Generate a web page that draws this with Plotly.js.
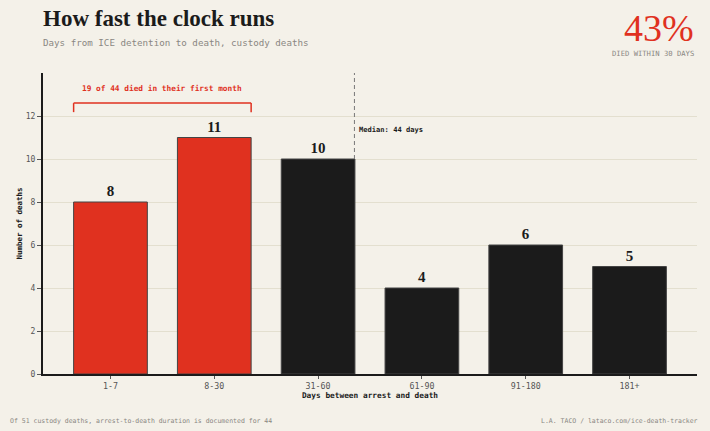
<!DOCTYPE html>
<html>
<head>
<meta charset="utf-8">
<script src="https://cdn.plot.ly/plotly-3.0.1.min.js"></script>
<style>
  html, body { margin: 0; padding: 0; background: #f4f1e9; }
  #chart { width: 710px; height: 431px; }
</style>
</head>
<body>
<div id="chart"></div>
<script>
// data
const categories = ['1-7', '8-30', '31-60', '61-90', '91-180', '181+'];
const deaths = [8, 11, 10, 4, 6, 5];
const firstMonth = [true, true, false, false, false, false];
const yTicks = [0, 2, 4, 6, 8, 10, 12];
const medianDays = 44;
const medianPos = 2.35; // where the 44-day median falls on the category axis

const RED = '#e0311f';
const DARK = '#1b1b1b';
const SERIF = '"Liberation Serif", "DejaVu Serif", serif';
const MONO = '"DejaVu Sans Mono", "Liberation Mono", monospace';
const BAR_W = 0.71;

const trace = {
    x: categories.map((c, i) => i),
    y: deaths,
    type: 'bar',
    width: BAR_W,
    marker: {
        color: firstMonth.map(f => f ? RED : DARK),
        line: { color: '#444', width: 1 }
    },
    text: deaths.map(String),
    textposition: 'outside',
    cliponaxis: false,
    textfont: { family: SERIF, size: 15, color: DARK, weight: 'bold' },
    hoverinfo: 'none'
};

// bracket over the first-month bars
const bx0 = 0 - BAR_W / 2;
const bx1 = 1 + BAR_W / 2;
const bTop = 12.6, bBot = 12.18;
const bracketLine = { color: RED, width: 1.5 };

const shapes = [
    { type: 'line', xref: 'x', yref: 'y', x0: bx0, x1: bx1, y0: bTop, y1: bTop, line: bracketLine },
    { type: 'line', xref: 'x', yref: 'y', x0: bx0, x1: bx0, y0: bTop, y1: bBot, line: bracketLine },
    { type: 'line', xref: 'x', yref: 'y', x0: bx1, x1: bx1, y0: bTop, y1: bBot, line: bracketLine },
    { type: 'line', xref: 'x', yref: 'y', x0: medianPos, x1: medianPos, y0: deaths[2], y1: 14,
      line: { color: '#777', width: 1, dash: '4px,3px' } }
];

const firstMonthCount = deaths.filter((d, i) => firstMonth[i]).reduce((a, b) => a + b, 0);
const total = deaths.reduce((a, b) => a + b, 0);

const annotations = [
    { xref: 'paper', yref: 'paper', x: -0.003, y: 1.18, xanchor: 'left', yanchor: 'middle', showarrow: false,
      text: 'How fast the clock runs', font: { family: SERIF, size: 23, color: DARK, weight: 'bold' } },
    { xref: 'paper', yref: 'paper', x: -0.003, y: 1.1, xanchor: 'left', yanchor: 'middle', showarrow: false,
      text: 'Days from ICE detention to death, custody deaths', font: { family: MONO, size: 9.2, color: '#8a8782' } },
    { xref: 'paper', yref: 'paper', x: 0.9985, y: 1.15, xanchor: 'right', yanchor: 'middle', showarrow: false,
      text: Math.round(firstMonthCount / total * 100) + '%', font: { family: SERIF, size: 38, color: RED } },
    { xref: 'paper', yref: 'paper', x: 0.9985, y: 1.066, xanchor: 'right', yanchor: 'middle', showarrow: false,
      text: 'DIED WITHIN 30 DAYS', font: { family: MONO, size: 7.2, color: '#8a8782' } },
    { xref: 'x', yref: 'y', x: (bx0 + bx1) / 2, y: 13.26, xanchor: 'center', yanchor: 'middle', showarrow: false,
      text: firstMonthCount + ' of ' + total + ' died in their first month',
      font: { family: MONO, size: 7.8, color: RED, weight: 'bold' } },
    { xref: 'x', yref: 'y', x: medianPos + 0.02, y: 11.35, xanchor: 'left', yanchor: 'middle', showarrow: false,
      text: 'Median: ' + medianDays + ' days', font: { family: MONO, size: 7.1, color: DARK, weight: 'bold' } },
    { xref: 'paper', yref: 'paper', x: -0.0535, y: -0.156, xanchor: 'left', yanchor: 'middle', showarrow: false,
      text: 'Of 51 custody deaths, arrest-to-death duration is documented for ' + total,
      font: { family: MONO, size: 6.5, color: '#8a8782' } },
    { xref: 'paper', yref: 'paper', x: 1.0046, y: -0.156, xanchor: 'right', yanchor: 'middle', showarrow: false,
      text: 'L.A. TACO / lataco.com/ice-death-tracker', font: { family: MONO, size: 6.5, color: '#8a8782' } }
];

const layout = {
    width: 710,
    height: 431,
    margin: { l: 43, r: 13, t: 73, b: 57 },
    paper_bgcolor: '#f4f1e9',
    plot_bgcolor: '#f4f1e9',
    showlegend: false,
    xaxis: {
        type: 'linear',
        range: [-0.65, 5.65],
        tickvals: categories.map((c, i) => i),
        ticktext: categories,
        showgrid: false,
        zeroline: false,
        showline: true,
        linecolor: DARK,
        linewidth: 2,
        ticks: 'outside',
        ticklen: 3,
        tickcolor: '#555',
        tickfont: { family: MONO, size: 8.3, color: '#555' },
        title: { text: 'Days between arrest and death', standoff: 2,
                 font: { family: MONO, size: 7.8, color: DARK, weight: 'bold' } },
        fixedrange: true
    },
    yaxis: {
        range: [0, 14],
        tickvals: yTicks,
        showgrid: true,
        gridcolor: '#e3dfcf',
        gridwidth: 1,
        zeroline: false,
        showline: true,
        linecolor: DARK,
        linewidth: 2,
        ticks: 'outside',
        ticklen: 4,
        tickcolor: '#555',
        tickfont: { family: MONO, size: 8, color: '#555' },
        title: { text: 'Number of deaths', standoff: 2,
                 font: { family: MONO, size: 7.5, color: DARK, weight: 'bold' } },
        fixedrange: true
    },
    shapes: shapes,
    annotations: annotations
};

Plotly.newPlot('chart', [trace], layout, { displayModeBar: false, staticPlot: true });
</script>
</body>
</html>
